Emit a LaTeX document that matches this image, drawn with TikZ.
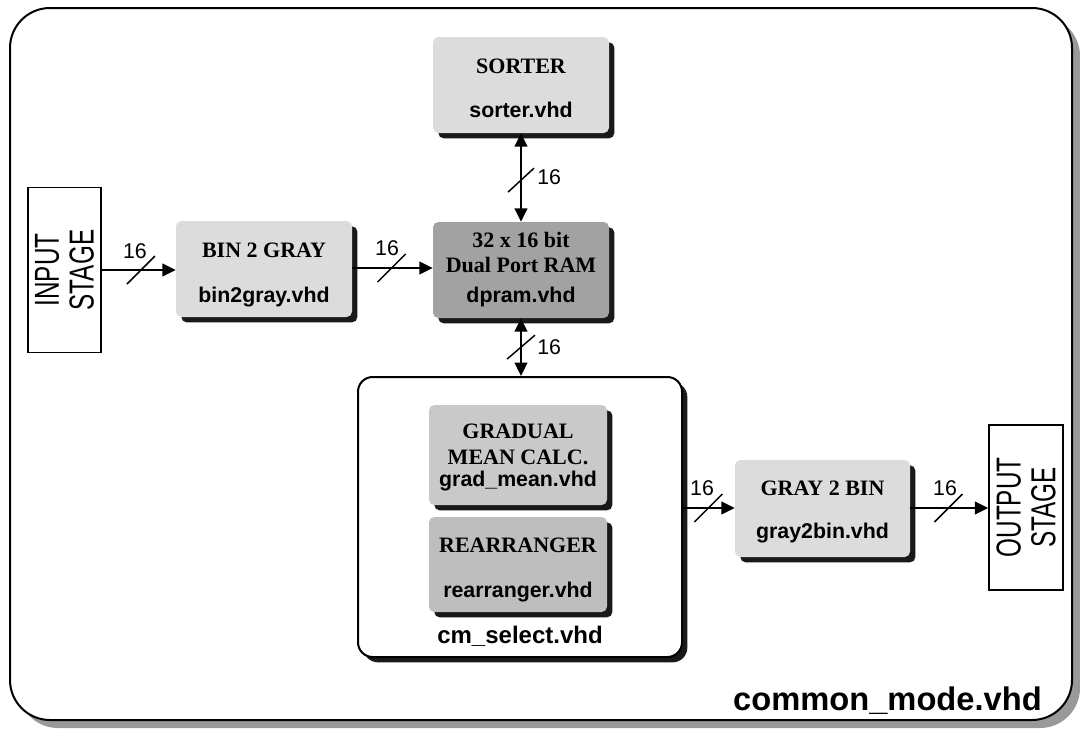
\documentclass[tikz,border=0pt]{standalone}
\usepackage{fontspec}
\setmainfont{Liberation Serif}
\setsansfont{Liberation Sans}
\newfontfamily\narrowf[FakeStretch=0.7]{Liberation Sans}
\usetikzlibrary{arrows.meta,calc,shadows}
\definecolor{lgray}{HTML}{DCDCDC}
\definecolor{dgray}{HTML}{A2A2A2}
\definecolor{mgray}{HTML}{C9C9C9}
\definecolor{rgray}{HTML}{BEBEBE}
\definecolor{shgray}{HTML}{999999}
\tikzset{
  blk/.style={rectangle, rounded corners=4pt, inner sep=0pt,
    drop shadow={shadow xshift=4pt, shadow yshift=-4pt, fill=black!90, opacity=1}},
  ttl/.style={font=\rmfamily\bfseries\fontsize{16.5}{18}\selectfont, anchor=base, inner sep=0pt},
  fil/.style={font=\sffamily\bfseries\fontsize{16}{18}\selectfont, anchor=base, inner sep=0pt},
  num/.style={font=\sffamily\fontsize{16}{18}\selectfont, anchor=base, inner sep=0pt},
  stage/.style={rectangle, draw, line width=1.1pt, inner sep=0pt, fill=white},
  stagetxt/.style={font=\narrowf\fontsize{26}{26}\selectfont, align=center, rotate=90, inner sep=0pt},
  arr/.style={line width=1.5pt, -{Triangle[length=10pt,width=9.5pt]}},
  darr/.style={line width=1.5pt, {Triangle[length=10pt,width=9.5pt]}-{Triangle[length=10pt,width=9.5pt]}},
  slash/.style={line width=1.1pt}
}
\begin{document}
\begin{tikzpicture}[x=0.75pt,y=-0.75pt]
\useasboundingbox (0,0) rectangle (1080,736);
% outer frame
\node[rectangle, draw, line width=1.5pt, rounded corners=30pt, fill=white,
  minimum width=1062*0.75pt, minimum height=712*0.75pt, inner sep=0pt,
  drop shadow={shadow xshift=6pt, shadow yshift=-6pt, fill=shgray, opacity=1}]
  (outer) at (541,364) {};
\node[font=\sffamily\bfseries\fontsize{24.5}{28}\selectfont, anchor=base east, inner sep=0pt]
  (cmv) at (1042,710) {common\_mode.vhd};

% cm_select container
\node[rectangle, draw, line width=1.5pt, rounded corners=11pt, fill=white, inner sep=0pt,
  minimum width=324*0.75pt, minimum height=280*0.75pt,
  drop shadow={shadow xshift=4pt, shadow yshift=-4pt, fill=black!90, opacity=1}]
  (cms) at (520,517) {};
\node[fil, font=\sffamily\bfseries\fontsize{18}{20}\selectfont] (cmst) at (520,643) {cm\_select.vhd};

% blocks
\node[blk, fill=lgray, minimum width=176*0.75pt, minimum height=96*0.75pt] (b2g) at (264,269) {};
\node[ttl] (b2gt) at (264,257) {BIN 2 GRAY};
\node[fil] (b2gf) at (264,302) {bin2gray.vhd};

\node[blk, fill=lgray, minimum width=176*0.75pt, minimum height=96*0.75pt] (srt) at (521,85) {};
\node[ttl] (srtt) at (521,73) {SORTER};
\node[fil] (srtf) at (521,117) {sorter.vhd};

\node[blk, fill=dgray, minimum width=176*0.75pt, minimum height=96*0.75pt] (dpr) at (521,270) {};
\node[ttl] (dprt1) at (521,247) {32 x 16 bit};
\node[ttl] (dprt2) at (521,272) {Dual Port RAM};
\node[fil] (dprf) at (521,302) {dpram.vhd};

\node[blk, fill=mgray, minimum width=178*0.75pt, minimum height=100*0.75pt] (grd) at (518,455) {};
\node[ttl] (grdt1) at (518,438) {GRADUAL};
\node[ttl] (grdt2) at (518,464) {MEAN CALC.};
\node[fil] (grdf) at (518,486) {grad\_mean.vhd};

\node[blk, fill=rgray, minimum width=178*0.75pt, minimum height=95*0.75pt] (rar) at (518,564.5) {};
\node[ttl] (rart) at (518,552) {REARRANGER};
\node[fil] (rarf) at (518,597) {rearranger.vhd};

\node[blk, fill=lgray, minimum width=175*0.75pt, minimum height=97*0.75pt] (g2b) at (822.5,508.5) {};
\node[ttl] (g2bt) at (822.5,495) {GRAY 2 BIN};
\node[fil] (g2bf) at (822.5,538) {gray2bin.vhd};

% stages
\node[stage, minimum width=73*0.75pt, minimum height=165*0.75pt] (inp) at (64.5,270) {};
\node[stagetxt] (inpt) at (64.5,270) {INPUT\\STAGE};
\node[stage, minimum width=74*0.75pt, minimum height=165*0.75pt] (out) at (1026,507.5) {};
\node[stagetxt] (outt) at (1026,507.5) {OUTPUT\\STAGE};

% connectors
\draw[arr] (inp.east) -- coordinate[pos=0.53] (s1) (inp.east -| b2g.west);
\draw[slash] ($(s1)+(-14,14)$) -- ($(s1)+(14,-14)$);
\node[num] (n1) at (135,258) {16};

\draw[arr] (b2g.east |- 0,268) -- coordinate[pos=0.49] (s2) (dpr.west |- 0,268);
\draw[slash] ($(s2)+(-14,14)$) -- ($(s2)+(14,-14)$);
\node[num] (n2) at (387,255) {16};

\draw[darr] (srt.south) -- coordinate[pos=0.53] (s3) (dpr.north);
\draw[slash] ($(s3)+(-13,12)$) -- ($(s3)+(13,-12)$);
\node[num, anchor=base west] (n3) at (537,184) {16};

\draw[darr] (dpr.south) -- coordinate[pos=0.5] (s4) (dpr.south |- cms.north);
\draw[slash] ($(s4)+(-14,12)$) -- ($(s4)+(14,-12)$);
\node[num, anchor=base west] (n4) at (537,354) {16};

\draw[arr] (cms.east |- 0,508) -- coordinate[pos=0.49] (s5) (g2b.west |- 0,508);
\draw[slash] ($(s5)+(-14,14)$) -- ($(s5)+(14,-14)$);
\node[num] (n5) at (702,495) {16};

\draw[arr] (g2b.east |- 0,508) -- coordinate[pos=0.49] (s6) (out.west |- 0,508);
\draw[slash] ($(s6)+(-14,14)$) -- ($(s6)+(14,-14)$);
\node[num] (n6) at (945,495) {16};
\end{tikzpicture}
\end{document}
